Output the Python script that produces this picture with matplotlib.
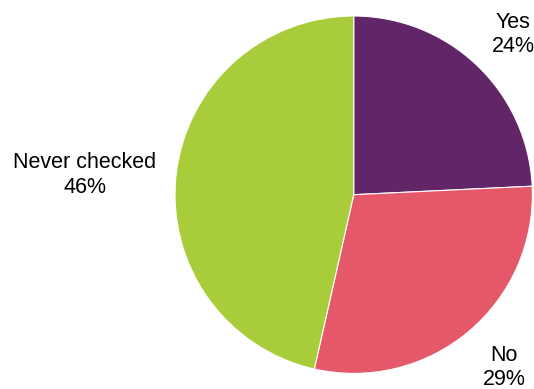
import matplotlib
matplotlib.use("Agg")
import matplotlib.pyplot as plt

categories = ["Yes", "No", "Never checked"]
shares = [24, 29, 46]
colors = ["#622567", "#E5586A", "#A9CD3A"]

W, H = 534, 389
fig = plt.figure(figsize=(W / 100, H / 100), dpi=100)
ax = fig.add_axes([0, 0, 1, 1])

cx, cy, r = 353.7, H - 194.7, 178.7
ax.pie(shares, colors=colors, startangle=90, counterclock=False,
       center=(cx, cy), radius=r,
       wedgeprops=dict(edgecolor="white", linewidth=0.8))
ax.set_xlim(0, W)
ax.set_ylim(0, H)
ax.set_aspect("auto")
ax.axis("off")

# label anchors: (x centre, baseline of first line, baseline of second line) in pixels from top
label_pos = {
    "Yes": (513, 28, 52),
    "No": (504, 361, 385),
    "Never checked": (85, 167.5, 192.5),
}
font = dict(family="Liberation Sans", fontsize=15.5, color="#000000")
for cat, val in zip(categories, shares):
    x, y1, y2 = label_pos[cat]
    ax.text(x, H - y1, cat, ha="center", va="baseline", **font)
    ax.text(x, H - y2, f"{val}%", ha="center", va="baseline", **font)

fig.savefig("out.png", dpi=100)
